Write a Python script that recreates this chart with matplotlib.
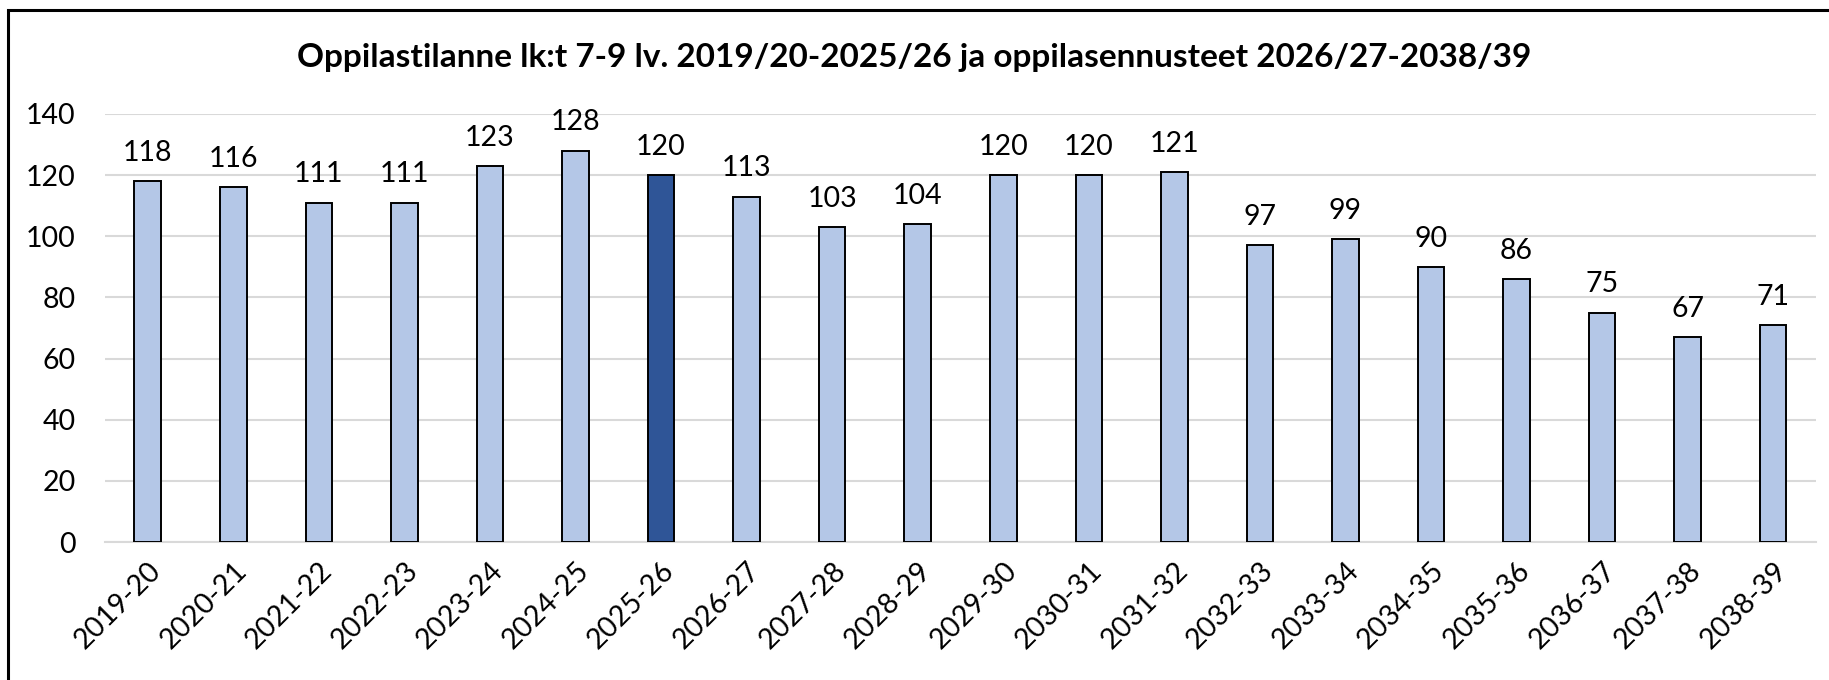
import matplotlib.pyplot as plt
from matplotlib.patches import Rectangle

# Chart data
years = ["2019-20", "2020-21", "2021-22", "2022-23", "2023-24", "2024-25", "2025-26",
         "2026-27", "2027-28", "2028-29", "2029-30", "2030-31", "2031-32", "2032-33",
         "2033-34", "2034-35", "2035-36", "2036-37", "2037-38", "2038-39"]
pupils = [118, 116, 111, 111, 123, 128, 120, 113, 103, 104,
          120, 120, 121, 97, 99, 90, 86, 75, 67, 71]
current_year = "2025-26"

title = "Oppilastilanne lk:t 7-9 lv. 2019/20-2025/26 ja oppilasennusteet 2026/27-2038/39"

plt.rcParams['font.family'] = ['Lato', 'DejaVu Sans']

fig = plt.figure(figsize=(18.29, 6.8), dpi=100)
ax = fig.add_axes([0.0574, 0.2029, 0.9355, 0.6295])

# Outer frame (right and bottom edges fall outside the picture)
fig.patches.append(Rectangle((8 / 1829, -0.1), 1.2, 1 - 10 / 680 + 0.1,
                             transform=fig.transFigure, fill=False,
                             edgecolor="black", linewidth=2.2))

colors = ["#2f5597" if y == current_year else "#b4c7e7" for y in years]
x = range(len(years))
bars = ax.bar(x, pupils, width=0.31, color=colors, edgecolor="black",
              linewidth=1.4, zorder=3)

for b, v in zip(bars, pupils):
    ax.annotate(str(v), (b.get_x() + b.get_width() / 2, v),
                xytext=(0, 11), textcoords="offset points",
                ha="center", va="bottom", fontsize=20.5)

ax.set_ylim(0, 140)
ax.set_yticks(range(0, 141, 20))
ax.set_xlim(-0.5, len(years) - 0.5)
ax.set_xticks(list(x))
ax.set_xticklabels(years, rotation=45, ha="right", rotation_mode="anchor")

ax.grid(axis="y", color="#d9d9d9", linewidth=1.5, zorder=0)
for s in ["top", "right", "left"]:
    ax.spines[s].set_visible(False)
ax.spines["bottom"].set_color("#d9d9d9")
ax.spines["bottom"].set_linewidth(1.5)
ax.tick_params(axis="both", length=0, labelsize=20.5)
ax.tick_params(axis="y", pad=21)
ax.tick_params(axis="x", pad=11)

fig.text(0.5, 1 - 57 / 680, title, ha="center", va="center",
         fontsize=24, fontweight="bold")

fig.savefig("out.png", dpi=100)
